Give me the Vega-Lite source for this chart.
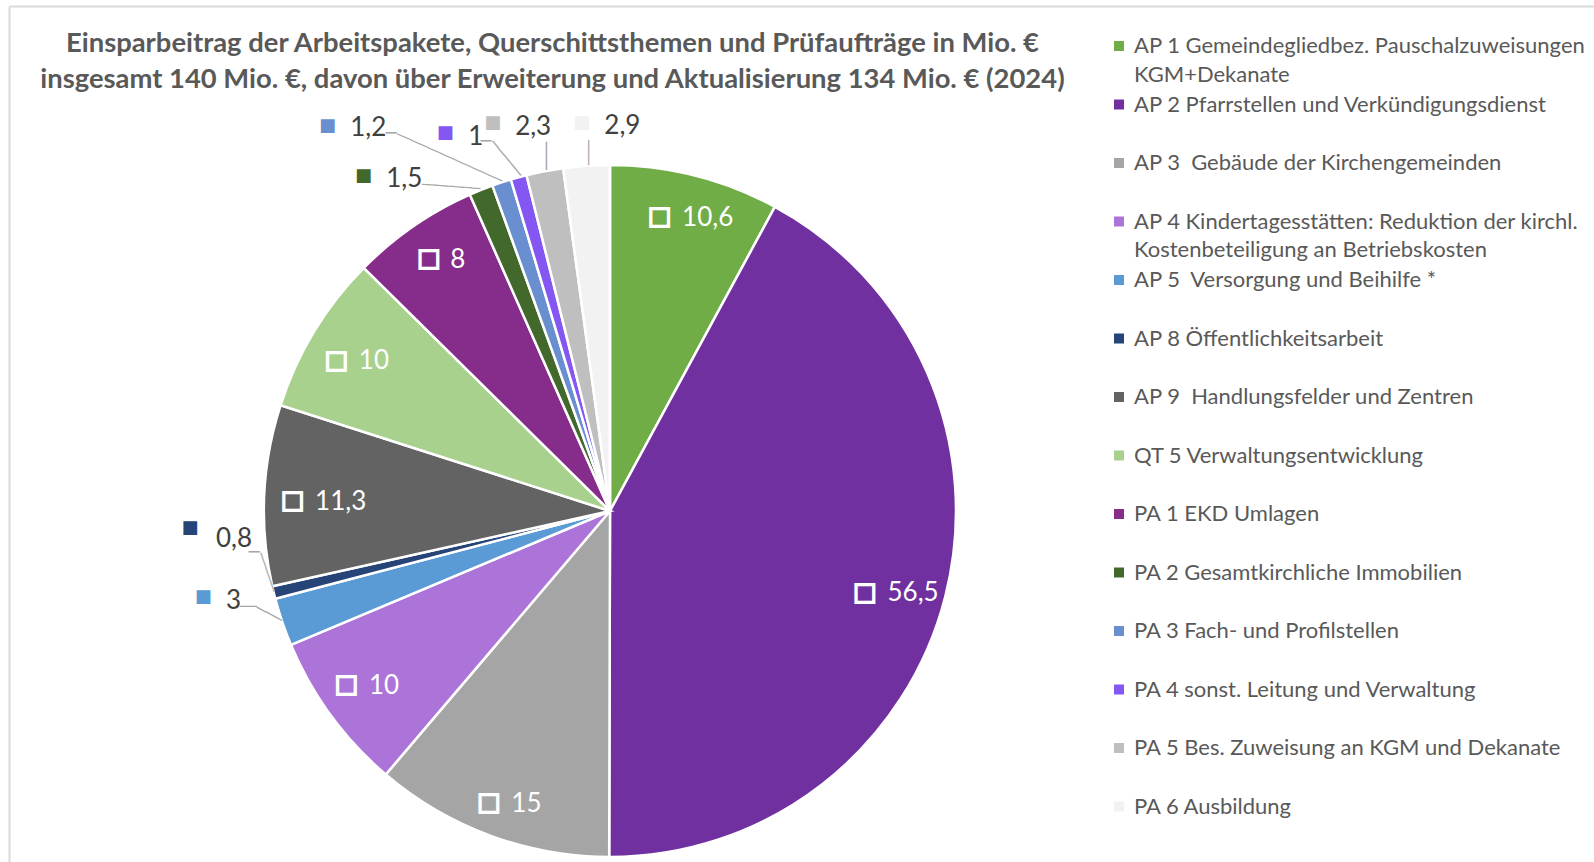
{
  "$schema": "https://vega.github.io/schema/vega-lite/v6.json",
  "width": 1220,
  "height": 702,
  "autosize": {"type": "none"},
  "padding": {"left": 0, "top": 160, "right": 374, "bottom": 0},
  "background": "white",
  "config": {
    "view": {"stroke": null},
    "locale": {"number": {"decimal": ",", "thousands": ".", "grouping": [3], "currency": ["", " €"]}},
    "style": {"guide-label": {"lineHeight": 28.5}}
  },
  "title": {
    "text": ["Einsparbeitrag der Arbeitspakete, Querschittsthemen und Prüfaufträge in Mio. €", "insgesamt 140 Mio. €, davon über Erweiterung und Aktualisierung 134 Mio. € (2024)"],
    "font": "Lato", "fontSize": 27.4, "fontWeight": "bold", "color": "#595959",
    "lineHeight": 36, "anchor": "middle", "frame": "group", "dx": -57.5,
    "offset": -87.5, "baseline": "top"
  },
  "data": {"values": [
    {"i": 1, "c": "AP 1", "k": "AP 1 Gemeindegliedbez. Pauschalzuweisungen|KGM+Dekanate", "v": 10.6},
    {"i": 2, "c": "AP 2", "k": "AP 2 Pfarrstellen und Verkündigungsdienst", "v": 56.5},
    {"i": 3, "c": "AP 3", "k": "AP 3\u00a0 Gebäude der Kirchengemeinden", "v": 15},
    {"i": 4, "c": "AP 4", "k": "AP 4 Kindertagesstätten: Reduktion der kirchl.|Kostenbeteiligung an Betriebskosten", "v": 10},
    {"i": 5, "c": "AP 5", "k": "AP 5\u00a0 Versorgung und Beihilfe *", "v": 3},
    {"i": 6, "c": "AP 8", "k": "AP 8 Öffentlichkeitsarbeit", "v": 0.8},
    {"i": 7, "c": "AP 9", "k": "AP 9\u00a0 Handlungsfelder und Zentren", "v": 11.3},
    {"i": 8, "c": "QT 5", "k": "QT 5 Verwaltungsentwicklung", "v": 10},
    {"i": 9, "c": "PA 1", "k": "PA 1 EKD Umlagen", "v": 8},
    {"i": 10, "c": "PA 2", "k": "PA 2 Gesamtkirchliche Immobilien", "v": 1.5},
    {"i": 11, "c": "PA 3", "k": "PA 3 Fach- und Profilstellen", "v": 1.2},
    {"i": 12, "c": "PA 4", "k": "PA 4 sonst. Leitung und Verwaltung", "v": 1},
    {"i": 13, "c": "PA 5", "k": "PA 5 Bes. Zuweisung an KGM und Dekanate", "v": 2.3},
    {"i": 14, "c": "PA 6", "k": "PA 6 Ausbildung", "v": 2.9}
  ]},
  "encoding": {
    "theta": {"field": "v", "type": "quantitative", "stack": true},
    "order": {"field": "i", "type": "quantitative"}
  },
  "layer": [
    {
      "mark": {"type": "point", "opacity": 0},
      "encoding": {
        "theta": null,
        "x": {"field": "v", "type": "quantitative", "scale": {"domain": [0, 60], "range": [9, 1700], "zero": false, "nice": false},
              "axis": {"orient": "top", "offset": 154, "ticks": false, "labels": false, "grid": false, "title": null, "domainColor": "#D9D9D9", "domainWidth": 2}},
        "y": {"field": "v", "type": "quantitative", "scale": {"domain": [0, 60], "range": [702, -154], "zero": false, "nice": false},
              "axis": {"orient": "left", "offset": -9, "ticks": false, "labels": false, "grid": false, "title": null, "domainColor": "#D9D9D9", "domainWidth": 2}}
      }
    },
    {
      "mark": {"type": "arc", "outerRadius": 346, "stroke": "white", "strokeWidth": 2.5},
      "encoding": {
        "color": {
          "field": "k", "type": "nominal",
          "scale": {
            "domain": ["AP 1 Gemeindegliedbez. Pauschalzuweisungen|KGM+Dekanate", "AP 2 Pfarrstellen und Verkündigungsdienst", "AP 3\u00a0 Gebäude der Kirchengemeinden", "AP 4 Kindertagesstätten: Reduktion der kirchl.|Kostenbeteiligung an Betriebskosten", "AP 5\u00a0 Versorgung und Beihilfe *", "AP 8 Öffentlichkeitsarbeit", "AP 9\u00a0 Handlungsfelder und Zentren", "QT 5 Verwaltungsentwicklung", "PA 1 EKD Umlagen", "PA 2 Gesamtkirchliche Immobilien", "PA 3 Fach- und Profilstellen", "PA 4 sonst. Leitung und Verwaltung", "PA 5 Bes. Zuweisung an KGM und Dekanate", "PA 6 Ausbildung"],
            "range": ["#70AD47", "#7030A0", "#A5A5A5", "#AC74D8", "#5B9BD5", "#264478", "#636363", "#A9D18E", "#862C8A", "#43682B", "#6A8FD0", "#8557F2", "#BFBFBF", "#F2F2F2"]
          },
          "legend": {
            "orient": "none", "legendX": 1108, "legendY": -125, "title": null,
            "columns": 1, "gridAlign": "all", "rowPadding": 7.5,
            "symbolType": "square", "symbolSize": 100, "symbolStrokeWidth": 0,
            "labelFont": "Lato", "labelFontSize": 22, "labelColor": "#595959",
            "labelOffset": 4, "labelLimit": 600, "labelBaseline": "middle",
            "labelExpr": "split(datum.label, '|')", "padding": 0
          }
        }
      }
    },
    {"mark": {"type": "text", "radius": 299, "dx": -23.7, "dy": -4.7, "font": "DejaVu Sans", "fontSize": 25, "fill": "white", "stroke": "white", "strokeWidth": 1.8, "align": "center", "baseline": "middle"},
     "encoding": {"text": {"condition": {"test": "datum.c == 'AP 1'", "value": "□"}, "value": ""}}},
    {"mark": {"type": "text", "radius": 299, "dx": -1.4, "dy": -3.2, "font": "Lato", "fontSize": 26, "color": "white", "align": "left", "baseline": "middle"},
     "encoding": {"text": {"condition": {"test": "datum.c == 'AP 1'", "field": "v", "type": "quantitative", "format": ".1~f"}, "value": ""}}},
    {"mark": {"type": "text", "radius": 299, "dx": -34.6, "dy": 6.8, "font": "DejaVu Sans", "fontSize": 25, "fill": "white", "stroke": "white", "strokeWidth": 1.8, "align": "center", "baseline": "middle"},
     "encoding": {"text": {"condition": {"test": "datum.c == 'AP 2'", "value": "□"}, "value": ""}}},
    {"mark": {"type": "text", "radius": 299, "dx": -12.2, "dy": 8.3, "font": "Lato", "fontSize": 26, "color": "white", "align": "left", "baseline": "middle"},
     "encoding": {"text": {"condition": {"test": "datum.c == 'AP 2'", "field": "v", "type": "quantitative", "format": ".1~f"}, "value": ""}}},
    {"mark": {"type": "text", "radius": 299, "dx": -17.4, "dy": 10.6, "font": "DejaVu Sans", "fontSize": 25, "fill": "white", "stroke": "white", "strokeWidth": 1.8, "align": "center", "baseline": "middle"},
     "encoding": {"text": {"condition": {"test": "datum.c == 'AP 3'", "value": "□"}, "value": ""}}},
    {"mark": {"type": "text", "radius": 299, "dx": 4.9, "dy": 12.1, "font": "Lato", "fontSize": 26, "color": "white", "align": "left", "baseline": "middle"},
     "encoding": {"text": {"condition": {"test": "datum.c == 'AP 3'", "field": "v", "type": "quantitative", "format": ".1~f"}, "value": ""}}},
    {"mark": {"type": "text", "radius": 299, "dx": -22.0, "dy": -3.3, "font": "DejaVu Sans", "fontSize": 25, "fill": "white", "stroke": "white", "strokeWidth": 1.8, "align": "center", "baseline": "middle"},
     "encoding": {"text": {"condition": {"test": "datum.c == 'AP 4'", "value": "□"}, "value": ""}}},
    {"mark": {"type": "text", "radius": 299, "dx": 0.4, "dy": -1.8, "font": "Lato", "fontSize": 26, "color": "white", "align": "left", "baseline": "middle"},
     "encoding": {"text": {"condition": {"test": "datum.c == 'AP 4'", "field": "v", "type": "quantitative", "format": ".1~f"}, "value": ""}}},
    {"mark": {"type": "text", "radius": 299, "dx": -18.5, "dy": 2.9, "font": "DejaVu Sans", "fontSize": 25, "fill": "white", "stroke": "white", "strokeWidth": 1.8, "align": "center", "baseline": "middle"},
     "encoding": {"text": {"condition": {"test": "datum.c == 'AP 9'", "value": "□"}, "value": ""}}},
    {"mark": {"type": "text", "radius": 299, "dx": 3.8, "dy": 4.4, "font": "Lato", "fontSize": 26, "color": "white", "align": "left", "baseline": "middle"},
     "encoding": {"text": {"condition": {"test": "datum.c == 'AP 9'", "field": "v", "type": "quantitative", "format": ".1~f"}, "value": ""}}},
    {"mark": {"type": "text", "radius": 299, "dx": -17.8, "dy": 3.8, "font": "DejaVu Sans", "fontSize": 25, "fill": "white", "stroke": "white", "strokeWidth": 1.8, "align": "center", "baseline": "middle"},
     "encoding": {"text": {"condition": {"test": "datum.c == 'QT 5'", "value": "□"}, "value": ""}}},
    {"mark": {"type": "text", "radius": 299, "dx": 4.6, "dy": 5.3, "font": "Lato", "fontSize": 26, "color": "white", "align": "left", "baseline": "middle"},
     "encoding": {"text": {"condition": {"test": "datum.c == 'QT 5'", "field": "v", "type": "quantitative", "format": ".1~f"}, "value": ""}}},
    {"mark": {"type": "text", "radius": 299, "dx": -11.1, "dy": -6.8, "font": "DejaVu Sans", "fontSize": 25, "fill": "white", "stroke": "white", "strokeWidth": 1.8, "align": "center", "baseline": "middle"},
     "encoding": {"text": {"condition": {"test": "datum.c == 'PA 1'", "value": "□"}, "value": ""}}},
    {"mark": {"type": "text", "radius": 299, "dx": 10.2, "dy": -5.3, "font": "Lato", "fontSize": 26, "color": "white", "align": "left", "baseline": "middle"},
     "encoding": {"text": {"condition": {"test": "datum.c == 'PA 1'", "field": "v", "type": "quantitative", "format": ".1~f"}, "value": ""}}},
    {"mark": {"type": "text", "radius": 346, "dx": -94.9, "dy": -10.9, "font": "Lato", "fontSize": 26, "color": "#404040", "align": "left", "baseline": "middle"},
     "encoding": {"text": {"condition": {"test": "datum.c == 'PA 2'", "field": "v", "type": "quantitative", "format": ".1~f"}, "value": ""}}},
    {"mark": {"type": "text", "radius": 346, "dx": -151.4, "dy": -54.2, "font": "Lato", "fontSize": 26, "color": "#404040", "align": "left", "baseline": "middle"},
     "encoding": {"text": {"condition": {"test": "datum.c == 'PA 3'", "field": "v", "type": "quantitative", "format": ".1~f"}, "value": ""}}},
    {"mark": {"type": "text", "radius": 346, "dx": -50.4, "dy": -40.6, "font": "Lato", "fontSize": 26, "color": "#404040", "align": "left", "baseline": "middle"},
     "encoding": {"text": {"condition": {"test": "datum.c == 'PA 4'", "field": "v", "type": "quantitative", "format": ".1~f"}, "value": ""}}},
    {"mark": {"type": "text", "radius": 346, "dx": -29.6, "dy": -43.8, "font": "Lato", "fontSize": 26, "color": "#404040", "align": "left", "baseline": "middle"},
     "encoding": {"text": {"condition": {"test": "datum.c == 'PA 5'", "field": "v", "type": "quantitative", "format": ".1~f"}, "value": ""}}},
    {"mark": {"type": "text", "radius": 346, "dx": 17.8, "dy": -39.9, "font": "Lato", "fontSize": 26, "color": "#404040", "align": "left", "baseline": "middle"},
     "encoding": {"text": {"condition": {"test": "datum.c == 'PA 6'", "field": "v", "type": "quantitative", "format": ".1~f"}, "value": ""}}},
    {"mark": {"type": "text", "radius": 346, "dx": -56.3, "dy": -21.3, "font": "Lato", "fontSize": 26, "color": "#404040", "align": "left", "baseline": "middle"},
     "encoding": {"text": {"condition": {"test": "datum.c == 'AP 5'", "field": "v", "type": "quantitative", "format": ".1~f"}, "value": ""}}},
    {"mark": {"type": "text", "radius": 346, "dx": -57.7, "dy": -54, "font": "Lato", "fontSize": 26, "color": "#404040", "align": "left", "baseline": "middle"},
     "encoding": {"text": {"condition": {"test": "datum.c == 'AP 8'", "field": "v", "type": "quantitative", "format": ".1~f"}, "value": ""}}},
    {"mark": {"type": "text", "radius": 346, "dx": -117.6, "dy": -14.3, "font": "DejaVu Sans", "fontSize": 18, "color": "#43682B", "align": "center", "baseline": "middle"},
     "encoding": {"text": {"condition": {"test": "datum.c == 'PA 2'", "value": "■"}, "value": ""}}},
    {"mark": {"type": "text", "radius": 346, "dx": -174.1, "dy": -56.5, "font": "DejaVu Sans", "fontSize": 18, "color": "#6A8FD0", "align": "center", "baseline": "middle"},
     "encoding": {"text": {"condition": {"test": "datum.c == 'PA 3'", "value": "■"}, "value": ""}}},
    {"mark": {"type": "text", "radius": 346, "dx": -73.4, "dy": -43.9, "font": "DejaVu Sans", "fontSize": 18, "color": "#8557F2", "align": "center", "baseline": "middle"},
     "encoding": {"text": {"condition": {"test": "datum.c == 'PA 4'", "value": "■"}, "value": ""}}},
    {"mark": {"type": "text", "radius": 346, "dx": -51.9, "dy": -47.9, "font": "DejaVu Sans", "fontSize": 18, "color": "#BFBFBF", "align": "center", "baseline": "middle"},
     "encoding": {"text": {"condition": {"test": "datum.c == 'PA 5'", "value": "■"}, "value": ""}}},
    {"mark": {"type": "text", "radius": 346, "dx": -4.8, "dy": -43.1, "font": "DejaVu Sans", "fontSize": 18, "color": "#F2F2F2", "align": "center", "baseline": "middle"},
     "encoding": {"text": {"condition": {"test": "datum.c == 'PA 6'", "value": "■"}, "value": ""}}},
    {"mark": {"type": "text", "radius": 346, "dx": -79, "dy": -24.6, "font": "DejaVu Sans", "fontSize": 18, "color": "#5B9BD5", "align": "center", "baseline": "middle"},
     "encoding": {"text": {"condition": {"test": "datum.c == 'AP 5'", "value": "■"}, "value": ""}}},
    {"mark": {"type": "text", "radius": 346, "dx": -83.7, "dy": -64.6, "font": "DejaVu Sans", "fontSize": 18, "color": "#264478", "align": "center", "baseline": "middle"},
     "encoding": {"text": {"condition": {"test": "datum.c == 'AP 8'", "value": "■"}, "value": ""}}},
    {"mark": {"type": "text", "radius": 346, "angle": 90, "dx": -13.3, "dy": -1.2, "font": "DejaVu Sans", "fontSize": 13.84, "color": "#A6A6A6", "align": "center", "baseline": "middle"},
     "encoding": {"text": {"condition": {"test": "datum.c == 'PA 6'", "value": "───"}, "value": ""}}},
    {"mark": {"type": "text", "radius": 346, "angle": 90, "dx": -15.3, "dy": -1.4, "font": "DejaVu Sans", "fontSize": 15.67, "color": "#A6A6A6", "align": "center", "baseline": "middle"},
     "encoding": {"text": {"condition": {"test": "datum.c == 'PA 5'", "value": "───"}, "value": ""}}},
    {"mark": {"type": "text", "radius": 346, "angle": 50.5, "dx": -22.26, "dy": -1.76, "font": "DejaVu Sans", "fontSize": 14.78, "color": "#A6A6A6", "align": "center", "baseline": "middle"},
     "encoding": {"text": {"condition": {"test": "datum.c == 'PA 4'", "value": "─────"}, "value": ""}}},
    {"mark": {"type": "text", "radius": 346, "angle": 24.3, "dx": -57.66, "dy": -0.85, "font": "DejaVu Sans", "fontSize": 13.67, "color": "#A6A6A6", "align": "center", "baseline": "middle"},
     "encoding": {"text": {"condition": {"test": "datum.c == 'PA 3'", "value": "──────────────"}, "value": ""}}},
    {"mark": {"type": "text", "radius": 346, "angle": 4.2, "dx": -30.12, "dy": -0.6, "font": "DejaVu Sans", "fontSize": 13.88, "color": "#A6A6A6", "align": "center", "baseline": "middle"},
     "encoding": {"text": {"condition": {"test": "datum.c == 'PA 2'", "value": "───────"}, "value": ""}}},
    {"mark": {"type": "text", "radius": 346, "angle": 71.2, "dx": -21.28, "dy": 0.15, "font": "DejaVu Sans", "fontSize": 13.69, "color": "#A6A6A6", "align": "center", "baseline": "middle"},
     "encoding": {"text": {"condition": {"test": "datum.c == 'AP 8'", "value": "─────"}, "value": ""}}},
    {"mark": {"type": "text", "radius": 346, "angle": 28.2, "dx": -15.28, "dy": -0.77, "font": "DejaVu Sans", "fontSize": 15.73, "color": "#A6A6A6", "align": "center", "baseline": "middle"},
     "encoding": {"text": {"condition": {"test": "datum.c == 'AP 5'", "value": "───"}, "value": ""}}},
    {"mark": {"type": "text", "radius": 346, "dx": -32.8, "dy": -35.5, "font": "DejaVu Sans", "fontSize": 18, "color": "#A6A6A6", "align": "center", "baseline": "middle"},
     "encoding": {"text": {"condition": {"test": "datum.c == 'PA 4'", "value": "─"}, "value": ""}}},
    {"mark": {"type": "text", "radius": 346, "dx": -110.5, "dy": -48.2, "font": "DejaVu Sans", "fontSize": 18, "color": "#A6A6A6", "align": "center", "baseline": "middle"},
     "encoding": {"text": {"condition": {"test": "datum.c == 'PA 3'", "value": "─"}, "value": ""}}},
    {"mark": {"type": "text", "radius": 346, "dx": -19.5, "dy": -39.6, "font": "DejaVu Sans", "fontSize": 18, "color": "#A6A6A6", "align": "center", "baseline": "middle"},
     "encoding": {"text": {"condition": {"test": "datum.c == 'AP 8'", "value": "─"}, "value": ""}}},
    {"mark": {"type": "text", "radius": 346, "dx": -33.9, "dy": -14.6, "font": "DejaVu Sans", "fontSize": 13.87, "color": "#A6A6A6", "align": "center", "baseline": "middle"},
     "encoding": {"text": {"condition": {"test": "datum.c == 'AP 5'", "value": "──"}, "value": ""}}}
  ]
}
